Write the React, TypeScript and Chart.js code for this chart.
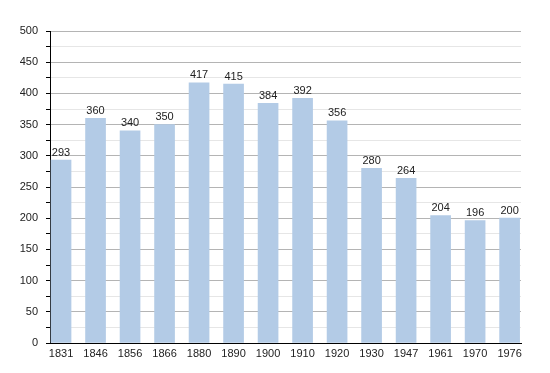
import React, { useEffect, useRef } from "react";
import { Chart, registerables } from "chart.js";

Chart.register(...registerables);

const years = ["1831", "1846", "1856", "1866", "1880", "1890", "1900", "1910", "1920", "1930", "1947", "1961", "1970", "1976"];
const population = [293, 360, 340, 350, 417, 415, 384, 392, 356, 280, 264, 204, 196, 200];

const valueLabels = {
  id: "valueLabels",
  afterDatasetsDraw(chart: any) {
    const ctx = chart.ctx;
    const meta = chart.getDatasetMeta(0);
    ctx.save();
    ctx.font = "11px 'Liberation Sans', Arial, sans-serif";
    ctx.fillStyle = "#222";
    ctx.textAlign = "center";
    ctx.textBaseline = "bottom";
    meta.data.forEach((el: any, i: number) => {
      ctx.fillText(String(population[i]), el.x, el.y - 2);
    });
    ctx.restore();
  },
};

export default function App() {
  const ref = useRef<HTMLCanvasElement>(null);
  useEffect(() => {
    const chart = new Chart(ref.current!, {
      type: "bar",
      data: {
        datasets: [
          {
            data: population.map((v, i) => ({ x: i, y: v })),
            backgroundColor: "#b3cbe6",
            borderWidth: 0,
            barThickness: 20,
          },
        ],
      },
      options: {
        responsive: false,
        animation: false,
        layout: { padding: { top: 23, right: 21, left: 0, bottom: 0 } },
        plugins: { legend: { display: false }, tooltip: { enabled: false } },
        scales: {
          x: {
            type: "linear",
            offset: false,
            min: -0.32,
            max: 13.33,
            afterBuildTicks: (scale: any) => {
              scale.ticks = years.map((_, i) => ({ value: i }));
            },
            afterFit: (scale: any) => {
              scale.height = 22;
            },
            grid: { display: false, drawTicks: false },
            border: { display: true, color: "#000", width: 1 },
            ticks: {
              autoSkip: false,
              maxRotation: 0,
              padding: 4,
              color: "#222",
              font: { family: "'Liberation Sans', Arial, sans-serif", size: 11 },
              callback: (v: any) => years[v as number] ?? "",
            },
          },
          y: {
            min: 0,
            max: 500,
            afterFit: (scale: any) => {
              scale.width = 42;
            },
            border: { display: true, color: "#000", width: 1 },
            grid: {
              color: (c: any) => (c.tick && c.tick.value % 50 === 0 ? "#b4b4b4" : "#e6e6e6"),
              tickColor: "#000",
              tickLength: 4,
              drawTicks: true,
            },
            ticks: {
              stepSize: 25,
              autoSkip: false,
              padding: 8,
              color: "#222",
              font: { family: "'Liberation Sans', Arial, sans-serif", size: 11 },
              callback: (v: any) => ((v as number) % 50 === 0 ? String(v) : ""),
            },
          },
        },
      },
      plugins: [valueLabels],
    } as any);
    return () => chart.destroy();
  }, []);
  return (
    <div style={{ width: 534, height: 357 }}>
      <canvas ref={ref} width={534} height={357} style={{ display: "block" }} />
    </div>
  );
}
